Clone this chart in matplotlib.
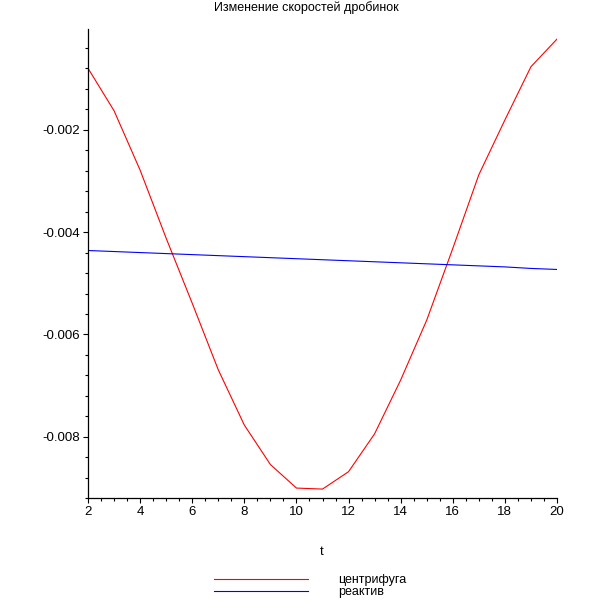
import numpy as np
import matplotlib
matplotlib.use("Agg")
import matplotlib.pyplot as plt
from matplotlib.ticker import MultipleLocator

plt.rcParams['font.family'] = ['Liberation Sans', 'DejaVu Sans']

# data
t = [2, 3, 4, 5, 6, 7, 8, 9, 10, 11, 12, 13, 14, 15, 16, 17, 18, 19, 20]
centrifuge = [-0.00080, -0.00163, -0.00279, -0.00412, -0.00539, -0.00669,
              -0.00777, -0.00854, -0.00900, -0.00902, -0.00868, -0.00794,
              -0.00689, -0.00572, -0.00432, -0.00288, -0.00181, -0.00077,
              -0.00023]
reagent = [-0.00436, -0.00438, -0.00440, -0.00442, -0.00444, -0.00446,
           -0.00448, -0.00450, -0.00452, -0.00454, -0.00456, -0.00458,
           -0.00460, -0.00462, -0.00464, -0.00466, -0.00468, -0.00471,
           -0.00473]
labels = ['центрифуга', 'реактив']
title = 'Изменение скоростей дробинок'

fig = plt.figure(figsize=(6.12, 6.12), dpi=100)
ax = fig.add_axes([88 / 612, 1 - 498.3 / 612, (557 - 88) / 612, (498.3 - 29.3) / 612])

l1, = ax.plot(t, centrifuge, color='#ff0000', lw=0.8)
l2, = ax.plot(t, reagent, color='#0000ff', lw=0.8)

ax.set_xlim(2, 20)
ax.set_ylim(-0.0092, -0.000039)

for s in ['top', 'right']:
    ax.spines[s].set_visible(False)
for s in ['left', 'bottom']:
    ax.spines[s].set_linewidth(0.9)

ax.xaxis.set_major_locator(MultipleLocator(2))
ax.xaxis.set_minor_locator(MultipleLocator(0.5))
ax.yaxis.set_major_locator(MultipleLocator(0.002))
ax.yaxis.set_minor_locator(MultipleLocator(0.0004))
ax.yaxis.set_major_formatter(lambda v, p: ('%.3f' % v).replace('-0.000', '0'))
ax.tick_params(which='major', length=3.5, width=0.8, labelsize=9.5, pad=2)
ax.tick_params(which='minor', length=2, width=0.8)

fig.text(0.501, 1 - 8 / 612, title, ha='center', va='center', fontsize=9)
fig.text(322 / 612, 1 - 552 / 612, 't', ha='center', va='center', fontsize=9.5)

fig.legend([l1, l2], labels, loc='upper left',
           bbox_to_anchor=(214 / 612, 1 - 574 / 612),
           bbox_transform=fig.transFigure, frameon=False, fontsize=9,
           handlelength=7.5, handletextpad=2.4, labelspacing=0.0,
           borderpad=0, borderaxespad=0)

fig.savefig('out.png', dpi=100)
